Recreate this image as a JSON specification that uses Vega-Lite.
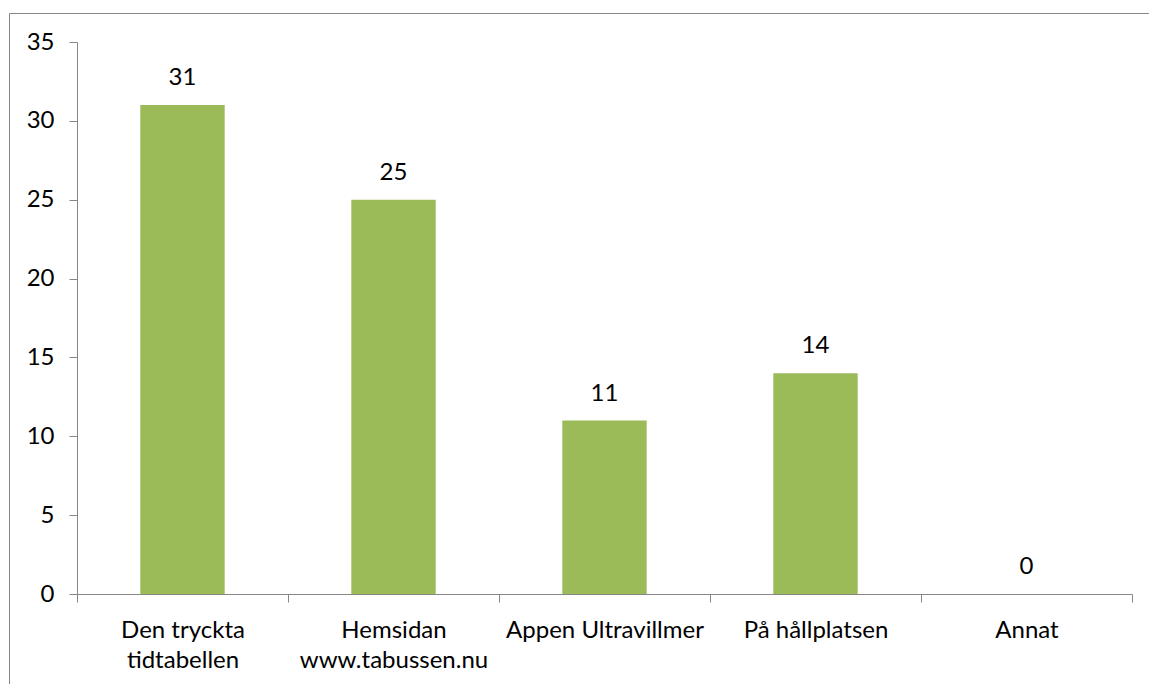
{
  "$schema": "https://vega.github.io/schema/vega-lite/v6.json",
  "autosize": {"type": "none"},
  "width": 1140,
  "height": 671,
  "padding": {"left": 9, "top": 13, "right": 0, "bottom": 0},
  "background": "white",
  "config": {
    "view": {"stroke": "#868686", "strokeWidth": 1},
    "font": "Lato",
    "axis": {"labelFont": "Lato", "labelFontSize": 24, "labelColor": "#000000", "domainColor": "#868686", "tickColor": "#868686", "tickSize": 8, "grid": false, "title": null, "labelLimit": 0}
  },
  "data": {
    "values": [
      {"kategori": "Den tryckta tidtabellen", "antal": 31},
      {"kategori": "Hemsidan www.tabussen.nu", "antal": 25},
      {"kategori": "Appen Ultravillmer", "antal": 11},
      {"kategori": "På hållplatsen", "antal": 14},
      {"kategori": "Annat", "antal": 0}
    ]
  },
  "encoding": {
    "x": {
      "field": "kategori",
      "type": "nominal",
      "sort": null,
      "scale": {"range": [68, 1123], "paddingInner": 0, "paddingOuter": 0},
      "axis": {
        "orient": "bottom",
        "offset": -90,
        "labelAngle": 0,
        "tickBand": "extent",
        "labelPadding": 16,
        "labelLineHeight": 30,
        "labelBaseline": "top",
        "labelExpr": "datum.value == 'Den tryckta tidtabellen' ? ['Den tryckta', 'tidtabellen'] : datum.value == 'Hemsidan www.tabussen.nu' ? ['Hemsidan', 'www.tabussen.nu'] : datum.label"
      }
    },
    "y": {
      "field": "antal",
      "type": "quantitative",
      "scale": {"domain": [0, 35], "range": [581, 29], "nice": false},
      "axis": {"orient": "left", "offset": -68, "values": [0, 5, 10, 15, 20, 25, 30, 35], "labelPadding": 15}
    }
  },
  "layer": [
    {"mark": {"type": "bar", "color": "#9BBB59", "width": {"band": 0.4}}},
    {"mark": {"type": "text", "font": "Lato", "fontSize": 24, "color": "#000000", "baseline": "alphabetic", "dy": -20}, "encoding": {"text": {"field": "antal", "type": "quantitative"}}}
  ]
}
